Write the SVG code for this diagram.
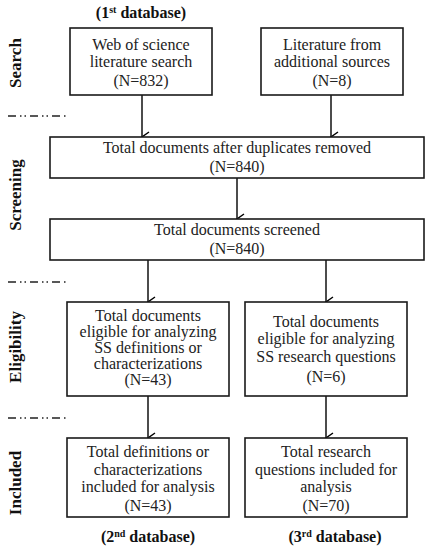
<svg xmlns="http://www.w3.org/2000/svg" width="430" height="550" viewBox="0 0 430 550">
<defs>
<marker id="arr" markerWidth="12" markerHeight="12" refX="6" refY="10" orient="auto-start-reverse" markerUnits="userSpaceOnUse" viewBox="0 0 12 12">
<path d="M1,3 L6,10 L11,3" fill="none" stroke="#000" stroke-width="1.5"/>
</marker>
</defs>
<style>
.box{fill:#fff;stroke:#1a1a1a;stroke-width:1.6}
.t{font-family:"Liberation Serif","DejaVu Serif",serif;font-size:16px;fill:#222;text-anchor:middle}
.b{font-family:"Liberation Serif","DejaVu Serif",serif;font-size:16px;font-weight:bold;fill:#111;text-anchor:middle}
.side{font-family:"Liberation Serif","DejaVu Serif",serif;font-size:17px;font-weight:bold;fill:#111;text-anchor:middle}
.sep{stroke:#222;stroke-width:1.5;stroke-dasharray:8,4,1.5,3,1.5,4;fill:none}
.c{stroke:#111;stroke-width:1.5;fill:none;marker-end:url(#arr)}
</style>
<rect width="430" height="550" fill="#fff"/>
<g id="titles">
<text class="b" x="141" y="18">(1<tspan font-size="10" dy="-5">st</tspan><tspan dy="5"> database)</tspan></text>
<text class="b" x="148" y="542">(2<tspan font-size="10" dy="-5">nd</tspan><tspan dy="5"> database)</tspan></text>
<text class="b" x="335" y="542">(3<tspan font-size="10" dy="-5">rd</tspan><tspan dy="5"> database)</tspan></text>
</g>
<g id="stages">
<text class="side" transform="translate(21,63) rotate(-90)">Search</text>
<text class="side" transform="translate(21,195) rotate(-90)">Screening</text>
<text class="side" transform="translate(21,347) rotate(-90)">Eligibility</text>
<text class="side" transform="translate(21,483) rotate(-90)">Included</text>
<line class="sep" x1="8" y1="116" x2="68" y2="116"/>
<line class="sep" x1="8" y1="282" x2="68" y2="282"/>
<line class="sep" x1="8" y1="418" x2="68" y2="418"/>
</g>
<g id="connectors">
<line class="c" x1="142" y1="95" x2="142" y2="137"/>
<line class="c" x1="331" y1="95" x2="331" y2="137"/>
<line class="c" x1="237" y1="178" x2="237" y2="219"/>
<line class="c" x1="148" y1="260" x2="148" y2="302"/>
<line class="c" x1="326" y1="260" x2="326" y2="302"/>
<line class="c" x1="148" y1="396" x2="148" y2="438"/>
<line class="c" x1="326" y1="396" x2="326" y2="438"/>
</g>
<g id="n1">
<rect class="box" x="70" y="28" width="142" height="67"/>
<text class="t" x="141" y="50">Web of science</text>
<text class="t" x="141" y="67">literature search</text>
<text class="t" x="141" y="86">(N=832)</text>
</g>
<g id="n2">
<rect class="box" x="261" y="28" width="142" height="67"/>
<text class="t" x="332" y="50">Literature from</text>
<text class="t" x="332" y="67">additional sources</text>
<text class="t" x="332" y="86">(N=8)</text>
</g>
<g id="n3">
<rect class="box" x="50" y="137" width="374" height="41"/>
<text class="t" x="237" y="153">Total documents after duplicates removed</text>
<text class="t" x="237" y="172">(N=840)</text>
</g>
<g id="n4">
<rect class="box" x="50" y="219" width="374" height="41"/>
<text class="t" x="237" y="235">Total documents screened</text>
<text class="t" x="237" y="254">(N=840)</text>
</g>
<g id="n5">
<rect class="box" x="67" y="302" width="162" height="94"/>
<text class="t" x="148" y="321">Total documents</text>
<text class="t" x="148" y="337">eligible for analyzing</text>
<text class="t" x="148" y="353">SS definitions or</text>
<text class="t" x="148" y="369">characterizations</text>
<text class="t" x="148" y="385">(N=43)</text>
</g>
<g id="n6">
<rect class="box" x="245" y="302" width="162" height="94"/>
<text class="t" x="326" y="327">Total documents</text>
<text class="t" x="326" y="344">eligible for analyzing</text>
<text class="t" x="326" y="362">SS research questions</text>
<text class="t" x="326" y="382">(N=6)</text>
</g>
<g id="n7">
<rect class="box" x="67" y="438" width="162" height="79"/>
<text class="t" x="148" y="457">Total definitions or</text>
<text class="t" x="148" y="475">characterizations</text>
<text class="t" x="148" y="492">included for analysis</text>
<text class="t" x="148" y="511">(N=43)</text>
</g>
<g id="n8">
<rect class="box" x="245" y="438" width="162" height="79"/>
<text class="t" x="326" y="457">Total research</text>
<text class="t" x="326" y="475">questions included for</text>
<text class="t" x="326" y="492">analysis</text>
<text class="t" x="326" y="511">(N=70)</text>
</g>
</svg>
